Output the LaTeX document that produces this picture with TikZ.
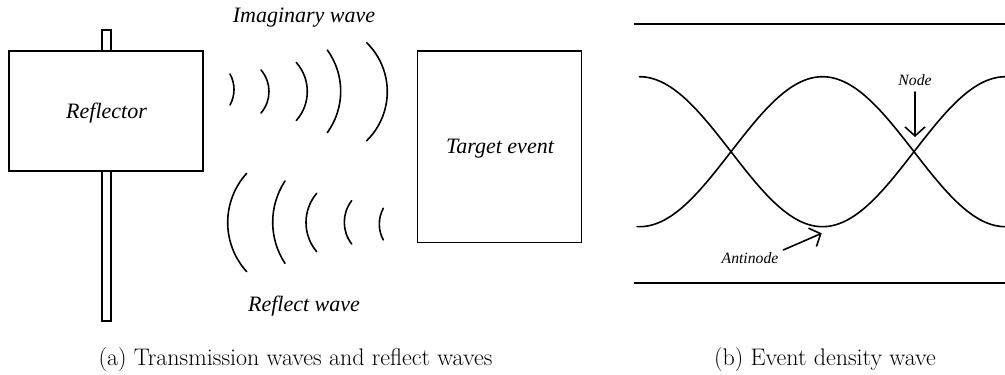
\documentclass[tikz,border=0pt]{standalone}
\usepackage{fontspec}
\newfontfamily\tnr{Liberation Serif}
\usetikzlibrary{arrows.meta}
\tikzset{
  stroke/.style={line width=1.6pt, line cap=round},
  lbl/.style={font=\tnr\itshape\fontsize{22}{26}\selectfont, inner sep=0pt, anchor=base},
  smalllbl/.style={font=\tnr\itshape\fontsize{15.7}{18}\selectfont, inner sep=0pt, anchor=base},
  captxt/.style={font=\fontsize{24}{28}\selectfont, inner sep=0pt, anchor=base},
  barb/.style={-{Straight Barb[length=9pt,width=20pt,line width=1.6pt]}},
}
\newcommand{\rarc}[4]{% ")" arc: centre x, centre y, radius, half angle
  \draw[stroke] ([shift={(-#4:#3)}]#1,#2) arc[start angle=-#4, end angle=#4, radius=#3];}
\newcommand{\larc}[4]{% "(" arc
  \draw[stroke] ([shift={(180+#4:#3)}]#1,#2) arc[start angle=180+#4, end angle=180-#4, radius=#3];}
\begin{document}
\begin{tikzpicture}[x=1pt,y=-1pt]
\useasboundingbox[fill=white] (0,0) rectangle (1005,375);
% ---------- (a) ----------
\draw[stroke, line cap=butt] (102,30) rectangle (111,321);
\node[stroke, draw, fill=white, minimum width=194pt, minimum height=120pt, inner sep=0pt] (refl) at (106,111) {};
\node[lbl] (refltxt) at (106.5,118.3) {Reflector};
\node[stroke, draw, minimum width=164pt, minimum height=191.5pt, inner sep=0pt] (target) at (499.5,146.8) {};
\node[lbl] (targettxt) at (500,153.3) {Target event};
\node[lbl] (imag) at (304,22.7) {Imaginary wave};
\node[lbl] (reflw) at (304,311.7) {Reflect wave};
% imaginary waves
\rarc{202}{89.5}{32}{29}
\rarc{236.1}{91.5}{32.9}{40.8}
\rarc{263.6}{91.5}{43.7}{41.6}
\rarc{270.3}{91.3}{70.4}{35.9}
\rarc{318.7}{91.7}{68.6}{45.6}
% reflect waves
\larc{300.9}{222.5}{73.2}{42.2}
\larc{347.8}{222.2}{75.1}{33.3}
\larc{351.2}{222.5}{45.2}{40.2}
\larc{379.8}{222.3}{35.5}{37.7}
\larc{412.5}{224.1}{33.2}{28.4}
\node[captxt] (capa) at (295.5,365) {(a) Transmission waves and reflect waves};
% ---------- (b) ----------
\coordinate (tl) at (634,24);
\coordinate (tr) at (1005,24);
\coordinate (bl) at (634,283);
\coordinate (br) at (1005,283);
\draw[stroke, line cap=butt] (tl) -- (tr);
\draw[stroke, line cap=butt] (bl) -- (br);
\draw[stroke] plot[domain=639.5:1005, samples=120, smooth] (\x, {151.7 - 75*cos((\x-639.5)/183*180)});
\draw[stroke] plot[domain=637:1005, samples=120, smooth] (\x, {151.7 + 75*cos((\x-639.5)/183*180)});
\node[smalllbl] (nodelbl) at (915,85) {Node};
\coordinate (nodetail) at (915,92);
\coordinate (nodetip) at (915,137);
\draw[stroke, barb] (nodetail) -- (nodetip);
\node[smalllbl] (antilbl) at (750,263.3) {Antinode};
\coordinate (antitail) at (783.3,250);
\coordinate (antitip) at (821.7,233.3);
\draw[stroke, barb] (antitail) -- (antitip);
\node[captxt] (capb) at (825,365) {(b) Event density wave};
\end{tikzpicture}
\end{document}
